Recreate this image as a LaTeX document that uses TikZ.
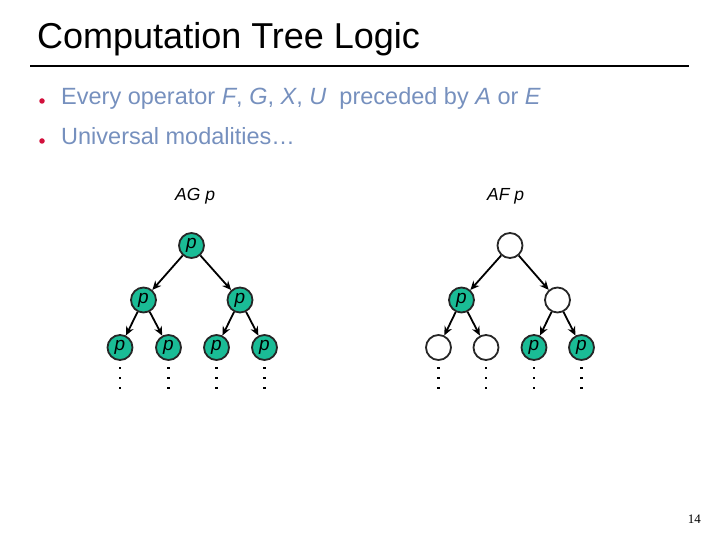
\documentclass[tikz,border=0pt]{standalone}
\usepackage{fontspec}
\setmainfont{Liberation Sans}
\newfontfamily\serifnum{Liberation Serif}
\usetikzlibrary{arrows.meta}
\definecolor{bodyblue}{RGB}{118,144,190}
\definecolor{bulletred}{RGB}{210,16,60}
\definecolor{teal}{RGB}{26,188,150}
\begin{document}
\begin{tikzpicture}[x=1pt,y=-1pt,
  st/.style={circle,draw=black!85,line width=1.8pt,minimum size=25pt,inner sep=0pt,
    font=\fontsize{19}{19}\selectfont\itshape},
  yes/.style={st,fill=teal},
  no/.style={st,fill=white},
  arr/.style={line width=1.8pt,-{Stealth[length=9pt,width=8pt]}},
  bul/.style={circle,fill=bulletred,inner sep=0pt,minimum size=5.5pt},
  btext/.style={anchor=base west,inner sep=0pt,text=bodyblue,font=\fontsize{23.5}{23.5}\selectfont},
  lab/.style={anchor=base west,inner sep=0pt,font=\fontsize{17.5}{17.5}\selectfont\itshape}]
\useasboundingbox (0,0) rectangle (720,540);
% title
\node[anchor=base west,inner sep=0pt,font=\fontsize{36}{36}\selectfont] (title) at (37,49) {Computation Tree Logic};
\draw[line width=2pt] (30,66) -- (689,66);
% bullets
\node[bul] (b1) at (42,101) {};
\node[btext] (t1) at (61,105) {Every operator \textit{F}, \textit{G}, \textit{X}, \textit{U}\ \ preceded by \textit{A} or \textit{E}};
\node[bul] (b2) at (42,141) {};
\node[btext] (t2) at (61,145) {Universal modalities\ldots};
% labels
\node[lab] (lag) at (175,201) {AG p};
\node[lab] (laf) at (487,201) {AF p};
% left tree
\node[yes] (l0) at (191.5,245.5) {p};
\node[yes] (l1) at (143.5,300) {p};
\node[yes] (l2) at (240,300) {p};
\node[yes] (l3) at (120,347.5) {p};
\node[yes] (l4) at (168.5,347.5) {p};
\node[yes] (l5) at (216.5,347.5) {p};
\node[yes] (l6) at (264.5,347.5) {p};
\draw[arr] (l0) -- (l1);
\draw[arr] (l0) -- (l2);
\draw[arr] (l1) -- (l3);
\draw[arr] (l1) -- (l4);
\draw[arr] (l2) -- (l5);
\draw[arr] (l2) -- (l6);
% right tree
\node[no] (r0) at (510,245.5) {};
\node[yes] (r1) at (461.5,300) {p};
\node[no] (r2) at (557.5,300) {};
\node[no] (r3) at (438.5,347.5) {};
\node[no] (r4) at (486,347.5) {};
\node[yes] (r5) at (534,347.5) {p};
\node[yes] (r6) at (581.5,347.5) {p};
\draw[arr] (r0) -- (r1);
\draw[arr] (r0) -- (r2);
\draw[arr] (r1) -- (r3);
\draw[arr] (r1) -- (r4);
\draw[arr] (r2) -- (r5);
\draw[arr] (r2) -- (r6);
% continuation dots
\foreach \x in {120,168.5,216.5,264.5,438.5,486,534,581.5}
  \foreach \y in {368,378,388}
    \fill (\x-1.3,\y-1.3) rectangle (\x+1.3,\y+1.3);
% page number
\node[anchor=base east,inner sep=0pt,font=\serifnum\fontsize{13}{13}\selectfont] (pg) at (701,523) {14};
\end{tikzpicture}
\end{document}
